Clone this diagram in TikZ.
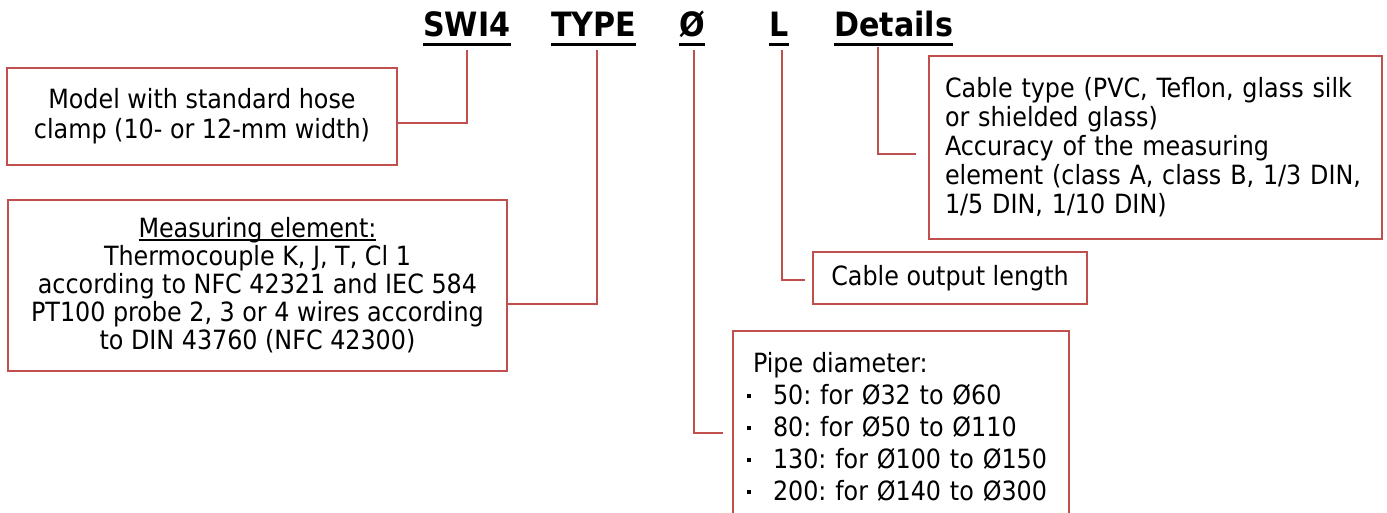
\documentclass[tikz,border=0pt]{standalone}
\usepackage{fontspec}
\setmainfont{DejaVu Sans Condensed}
\newcommand{\myul}[1]{\setbox0\hbox{#1}\rlap{\rule[-3pt]{\wd0}{1.5pt}}\box0}
\newcommand{\pbul}{\makebox[26pt][l]{\rule[6pt]{4pt}{4pt}}}
\definecolor{boxred}{HTML}{C0504D}
\begin{document}
\frenchspacing
\begin{tikzpicture}[x=1pt,y=-1pt,
  box/.style={draw=boxred, line width=1.4pt, inner sep=0pt, outer sep=0pt, font=\fontsize{26.5}{28}\selectfont},
  conn/.style={draw=boxred, line width=1.4pt},
  ttl/.style={font=\fontsize{33.5}{40}\bfseries\selectfont, inner sep=0pt, anchor=base west, text depth=0pt},
  ul/.style={line width=3.2pt}]
\useasboundingbox (0,0) rectangle (1387,513);

% title
\node[ttl] (swi) at (423,37) {SWI4};
\node[ttl] (typ) at (551,37) {TYPE};
\node[ttl] (dia) at (679,37) {Ø};
\node[ttl] (len) at (769,37) {L};
\node[ttl] (det) at (834,37) {Details};
\foreach \n in {swi,typ,dia,len,det}
  \draw[ul] ([yshift=-7.5pt]\n.south west) -- ([yshift=-7.5pt]\n.south east);

% boxes
\node[box, minimum width=390pt, minimum height=97pt, align=center,
      font=\fontsize{26.5}{30}\selectfont] (model) at (202,116.5)
  {Model with standard hose\\clamp (10- or 12-mm width)};
\node[box, minimum width=499pt, minimum height=171pt, align=center] (meas) at (257.5,285.5)
  {\myul{Measuring element:}\\Thermocouple K, J, T, Cl 1\\according to NFC 42321 and IEC 584\\PT100 probe 2, 3 or 4 wires according\\to DIN 43760 (NFC 42300)};
\node[box, minimum height=183pt, text width=421pt, inner xsep=16pt,
      align=left, font=\fontsize{26.5}{29}\selectfont] (detbox) at (1155.5,147.5)
  {Cable type (PVC, Teflon, glass silk\\or shielded glass)\\Accuracy of the measuring\\element (class A, class B, 1/3 DIN,\\1/5 DIN, 1/10 DIN)};
\node[box, minimum width=274pt, minimum height=52pt] (lenbox) at (950,278) {Cable output length};
\node[box, anchor=north west, text width=308pt, inner xsep=14pt, inner ysep=21pt, align=left,
      font=\fontsize{26.5}{32}\selectfont] (pipe) at (733,331)
  {\hspace*{6pt}Pipe diameter:\\
   \pbul 50: for Ø32 to Ø60\\
   \pbul 80: for Ø50 to Ø110\\
   \pbul 130: for Ø100 to Ø150\\
   \pbul 200: for Ø140 to Ø300};

% connectors
\coordinate (c1) at (467,50);
\coordinate (c2) at (597,50);
\coordinate (c3) at (694,50);
\coordinate (c4) at (782,50);
\coordinate (c5) at (878,47);
\draw[conn] (c1) |- ([yshift=-6.5pt]model.east);
\draw[conn] (c2) |- ([yshift=-18.5pt]meas.east);
\draw[conn, shorten >=10pt] (c3) |- ([yshift=-102pt]pipe.north west);
\draw[conn, shorten >=8pt] (c4) |- ([yshift=-2pt]lenbox.west);
\draw[conn, shorten >=13pt] (c5) |- ([yshift=-6.5pt]detbox.west);
\end{tikzpicture}
\end{document}
